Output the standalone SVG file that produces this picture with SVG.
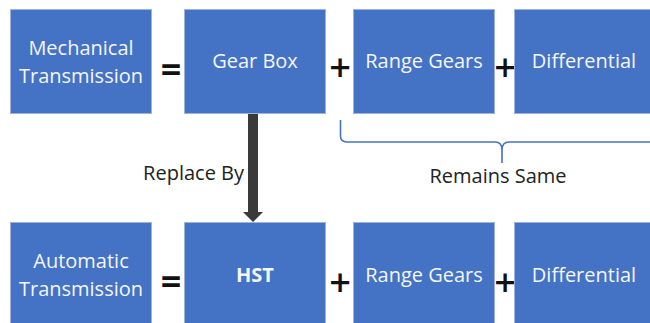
<svg xmlns="http://www.w3.org/2000/svg" width="650" height="323" viewBox="0 0 650 323">
  <style>
    .box { fill: #4472C4; stroke: #9fb3d9; stroke-width: 1; }
    .lbl { font-family: "Open Sans", "Liberation Sans", sans-serif; font-size: 20px; fill: #f4f6fa; text-anchor: middle; }
    .op { font-family: "Open Sans", "Liberation Sans", sans-serif; fill: #111; text-anchor: middle; }
    .eq { font-weight: bold; font-size: 36px; }
    .plus { font-weight: 600; font-size: 38px; }
    .note { font-family: "Open Sans", "Liberation Sans", sans-serif; font-size: 20px; fill: #222; }
  </style>
  <rect width="650" height="323" fill="#ffffff"/>

  <!-- top row -->
  <g id="mechanical">
    <rect class="box" x="10.5" y="9.5" width="141" height="104"/>
    <text class="lbl" x="81" y="55">Mechanical</text>
    <text class="lbl" x="81" y="83">Transmission</text>
  </g>
  <text class="op eq" x="171" y="82">=</text>
  <g id="gearbox">
    <rect class="box" x="184.5" y="9.5" width="141" height="104"/>
    <text class="lbl" x="255" y="68">Gear Box</text>
  </g>
  <text class="op plus" x="340" y="81">+</text>
  <g id="range-gears-top">
    <rect class="box" x="353.5" y="9.5" width="141" height="104"/>
    <text class="lbl" x="424" y="68">Range Gears</text>
  </g>
  <text class="op plus" x="505" y="81">+</text>
  <g id="differential-top">
    <rect class="box" x="514.5" y="9.5" width="141" height="104"/>
    <text class="lbl" x="584" y="68">Differential</text>
  </g>

  <!-- bottom row -->
  <g id="automatic">
    <rect class="box" x="10.5" y="222.5" width="141" height="104"/>
    <text class="lbl" x="81" y="268">Automatic</text>
    <text class="lbl" x="81" y="296">Transmission</text>
  </g>
  <text class="op eq" x="171" y="294">=</text>
  <g id="hst">
    <rect class="box" x="184.5" y="222.5" width="141" height="104"/>
    <text class="lbl" x="255" y="282" font-weight="bold">HST</text>
  </g>
  <text class="op plus" x="340" y="296">+</text>
  <g id="range-gears-bottom">
    <rect class="box" x="353.5" y="222.5" width="141" height="104"/>
    <text class="lbl" x="424" y="282">Range Gears</text>
  </g>
  <text class="op plus" x="505" y="296">+</text>
  <g id="differential-bottom">
    <rect class="box" x="514.5" y="222.5" width="141" height="104"/>
    <text class="lbl" x="584" y="282">Differential</text>
  </g>

  <!-- connectors -->
  <g id="connectors">
    <path d="M248 114 H258 V212 H263 L253 222 L243 212 H248 Z" fill="#3a3a3a"/>
    <text class="note" x="244" y="180" text-anchor="end">Replace By</text>
    <path d="M340.5 120 V136 Q340.5 142 347 142 H495 Q502 142 502 150 V163 M502 163 V150 Q502 142 509 142 H652"
          fill="none" stroke="#4472C4" stroke-width="1.6"/>
    <text class="note" x="498" y="183" text-anchor="middle">Remains Same</text>
  </g>
</svg>
